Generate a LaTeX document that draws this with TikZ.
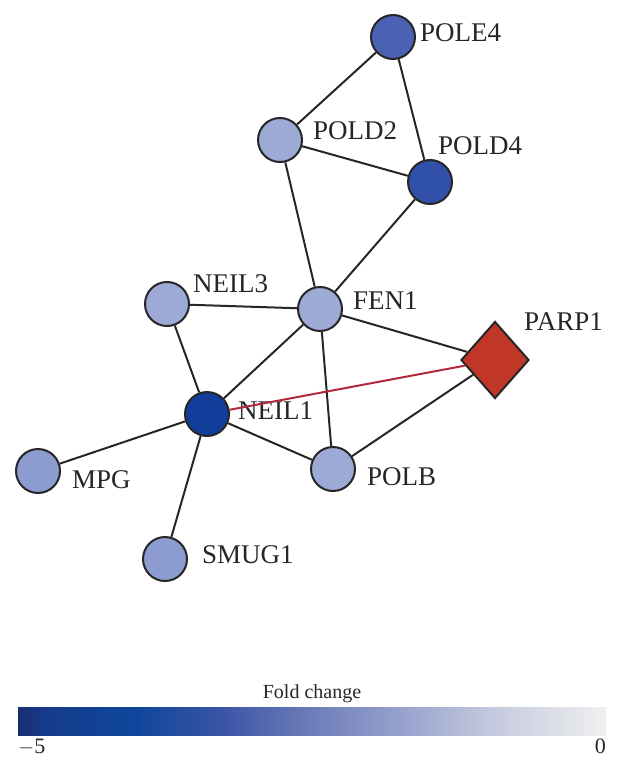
\documentclass[tikz,border=0pt]{standalone}
\usepackage{fontspec}
\setmainfont{Liberation Serif}
\usetikzlibrary{shapes.geometric}
\definecolor{nlight}{RGB}{158,170,214}
\definecolor{nmid}{RGB}{140,155,208}
\definecolor{npole}{RGB}{75,98,180}
\definecolor{npold}{RGB}{48,80,170}
\definecolor{ndark}{RGB}{18,62,155}
\definecolor{nred}{RGB}{192,55,40}
\definecolor{ered}{RGB}{180,40,60}
\definecolor{fc0}{RGB}{25,45,115}
\definecolor{fc1}{RGB}{22,60,140}
\definecolor{fc2}{RGB}{14,70,155}
\definecolor{fc3}{RGB}{60,85,165}
\definecolor{fc4}{RGB}{110,125,185}
\definecolor{fc5}{RGB}{150,162,205}
\definecolor{fc6}{RGB}{195,200,222}
\definecolor{fc7}{RGB}{240,240,240}
\pgfdeclarehorizontalshading{foldchange}{100bp}{color(0bp)=(fc0); color(25bp)=(fc0); color(27.5bp)=(fc1); color(35bp)=(fc2); color(42.5bp)=(fc3); color(50bp)=(fc4); color(57.5bp)=(fc5); color(65bp)=(fc6); color(75bp)=(fc7); color(100bp)=(fc7)}
\begin{document}
\begin{tikzpicture}[x=1pt,y=-1pt,
  gene/.style={circle, draw=black!85, line width=2pt, minimum size=44pt, inner sep=0pt},
  lbl/.style={anchor=base west, font=\fontsize{27}{31}\selectfont, inner sep=0pt, text=black!85},
  edge/.style={line width=2pt, draw=black!85},
  redge/.style={line width=2pt, draw=ered}]
\useasboundingbox (0,0) rectangle (624,762);
% nodes
\node[gene, fill=npole] (pole4) at (393,37) {};
\node[gene, fill=nlight] (pold2) at (280,140) {};
\node[gene, fill=npold] (pold4) at (430,182) {};
\node[gene, fill=nlight] (neil3) at (167,304) {};
\node[gene, fill=nlight] (fen1) at (320,309) {};
\node[gene, fill=ndark] (neil1) at (207,414) {};
\node[gene, fill=nmid] (mpg) at (38,471) {};
\node[gene, fill=nlight] (polb) at (333,469) {};
\node[gene, fill=nmid] (smug1) at (165,559) {};
\node[diamond, draw=black!85, line width=2pt, fill=nred, inner sep=0pt, minimum width=68pt, minimum height=77pt] (parp1) at (495,360) {};
% labels
\node[lbl] (lpole4) at (420,42) {POLE4};
\node[lbl] (lpold2) at (313,140) {POLD2};
\node[lbl] (lpold4) at (438,155) {POLD4};
\node[lbl] (lneil3) at (193,292) {NEIL3};
\node[lbl] (lfen1) at (353,309) {FEN1};
\node[lbl] (lparp1) at (524,330) {PARP1};
\node[lbl] (lneil1) at (238,419) {NEIL1};
\node[lbl] (lmpg) at (72,488) {MPG};
\node[lbl] (lpolb) at (367,485) {POLB};
\node[lbl] (lsmug1) at (202,563) {SMUG1};
% edges
\draw[edge] (pole4) -- (pold2);
\draw[edge] (pole4) -- (pold4);
\draw[edge] (pold2) -- (pold4);
\draw[edge] (pold2) -- (fen1);
\draw[edge] (pold4) -- (fen1);
\draw[edge] (neil3) -- (fen1);
\draw[edge] (neil3) -- (neil1);
\draw[edge] (fen1) -- (neil1);
\draw[edge] (fen1) -- (parp1);
\draw[edge] (fen1) -- (polb);
\draw[edge] (neil1) -- (polb);
\draw[edge] (neil1) -- (mpg);
\draw[edge] (neil1) -- (smug1);
\draw[edge] (polb) -- (parp1);
\draw[redge] (neil1) -- (parp1);
% colour bar
\node[anchor=base, font=\fontsize{20}{24}\selectfont, inner sep=0pt, text=black!85] (fold) at (312,698) {Fold change};
\shade[shading=foldchange] (18,707) rectangle (606,735);
\node[anchor=base west, font=\fontsize{22}{26}\selectfont, inner sep=0pt, text=black!85] (lmin) at (18,753) {$-$5};
\node[anchor=base east, font=\fontsize{22}{26}\selectfont, inner sep=0pt, text=black!85] (lmax) at (606,753) {0};
\end{tikzpicture}
\end{document}
